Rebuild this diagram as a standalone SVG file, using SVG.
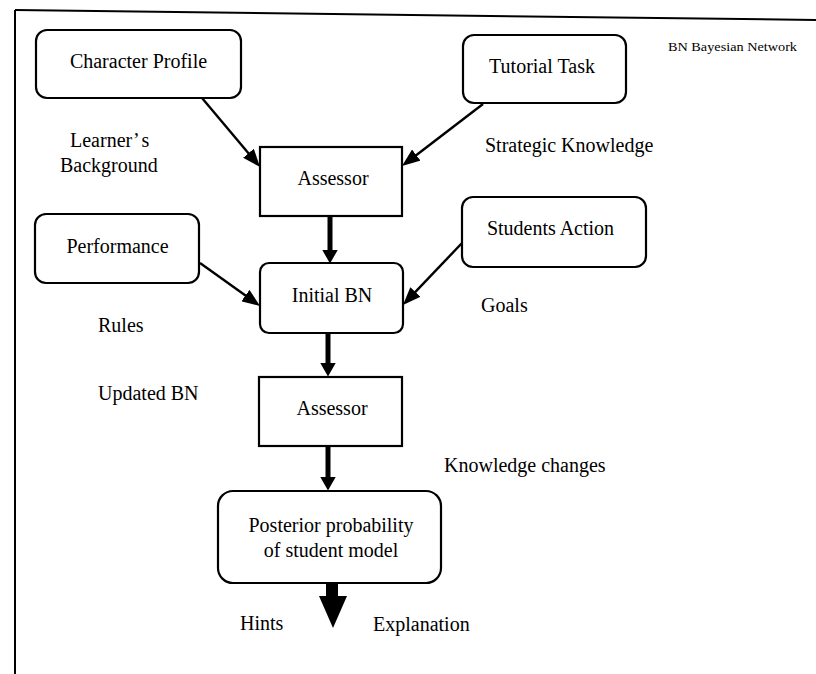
<svg xmlns="http://www.w3.org/2000/svg" width="816" height="674" viewBox="0 0 816 674">
  <style>
    .box { fill: #ffffff; stroke: #000000; stroke-width: 2.2; }
    .t { font-family: "Liberation Serif", "Times New Roman", serif; font-size: 20px; fill: #000000; }
    .c { text-anchor: middle; }
    .thin { stroke: #000000; stroke-width: 2.4; fill: none; }
    .thick { stroke: #000000; stroke-width: 5; fill: none; }
    .frame { stroke: #000000; stroke-width: 2; fill: none; }
  </style>
  <defs>
    <marker id="head" markerUnits="userSpaceOnUse" markerWidth="18" markerHeight="14" viewBox="0 0 18 14" refX="1" refY="7" orient="auto">
      <path d="M0,0 L18,7 L0,14 z" fill="#000000"/>
    </marker>
    <marker id="headThick" markerUnits="userSpaceOnUse" markerWidth="14" markerHeight="16" viewBox="0 0 14 16" refX="0.5" refY="8" orient="auto">
      <path d="M0,0 L14,8 L0,16 z" fill="#000000"/>
    </marker>
  </defs>

  <rect width="816" height="674" fill="#ffffff"/>

  <!-- page frame -->
  <g id="frame">
    <line class="frame" x1="15" y1="10" x2="816" y2="20"/>
    <line class="frame" x1="15" y1="10" x2="15" y2="674"/>
  </g>

  <!-- legend -->
  <text class="t" x="668" y="51" style="font-size:13px" textLength="129" lengthAdjust="spacingAndGlyphs">BN Bayesian Network</text>

  <!-- nodes -->
  <g id="character-profile">
    <rect class="box" x="36" y="30" width="205" height="68" rx="11"/>
    <text class="t c" x="138.5" y="68">Character Profile</text>
  </g>
  <g id="tutorial-task">
    <rect class="box" x="463" y="35" width="163" height="68" rx="11"/>
    <text class="t c" x="542" y="73">Tutorial Task</text>
  </g>
  <g id="assessor-1">
    <rect class="box" x="260" y="147" width="142" height="69"/>
    <text class="t c" x="333" y="185">Assessor</text>
  </g>
  <g id="performance">
    <rect class="box" x="35" y="214" width="164" height="69" rx="11"/>
    <text class="t c" x="117.5" y="253">Performance</text>
  </g>
  <g id="students-action">
    <rect class="box" x="462" y="197" width="184" height="70" rx="11"/>
    <text class="t c" x="550.5" y="235">Students Action</text>
  </g>
  <g id="initial-bn">
    <rect class="box" x="260" y="263" width="143" height="70" rx="9"/>
    <text class="t c" x="332" y="302">Initial BN</text>
  </g>
  <g id="assessor-2">
    <rect class="box" x="259" y="377" width="143" height="69"/>
    <text class="t c" x="332" y="415">Assessor</text>
  </g>
  <g id="posterior">
    <rect class="box" x="218" y="491" width="223" height="92" rx="15"/>
    <text class="t c" x="331" y="532">Posterior probability</text>
    <text class="t c" x="331" y="557">of student model</text>
  </g>

  <!-- edge labels -->
  <g id="labels">
    <text class="t" x="70" y="147">Learner’<tspan dx="3">s</tspan></text>
    <text class="t" x="60" y="172">Background</text>
    <text class="t" x="485" y="152">Strategic Knowledge</text>
    <text class="t" x="98" y="332">Rules</text>
    <text class="t" x="481" y="312">Goals</text>
    <text class="t" x="98" y="400">Updated BN</text>
    <text class="t" x="444" y="472">Knowledge changes</text>
    <text class="t" x="240" y="630">Hints</text>
    <text class="t" x="373" y="631">Explanation</text>
  </g>

  <!-- connectors -->
  <g id="connectors">
    <line class="thin" x1="202" y1="98" x2="249.1" y2="154" marker-end="url(#head)"/>
    <line class="thin" x1="483" y1="104" x2="415.5" y2="155.7" marker-end="url(#head)"/>
    <line class="thin" x1="200" y1="263" x2="246.2" y2="296.1" marker-end="url(#head)"/>
    <line class="thin" x1="462" y1="243" x2="414.7" y2="292.7" marker-end="url(#head)"/>
    <line class="thick" x1="330" y1="216" x2="330" y2="250" marker-end="url(#headThick)"/>
    <line class="thick" x1="328" y1="333" x2="328" y2="363" marker-end="url(#headThick)"/>
    <line class="thick" x1="328" y1="446" x2="328" y2="477" marker-end="url(#headThick)"/>
    <!-- output arrow -->
    <path d="M326,583 L338,583 L338,596 L347,596 L333,628 L319,596 L326,596 z" fill="#000000"/>
  </g>
</svg>
